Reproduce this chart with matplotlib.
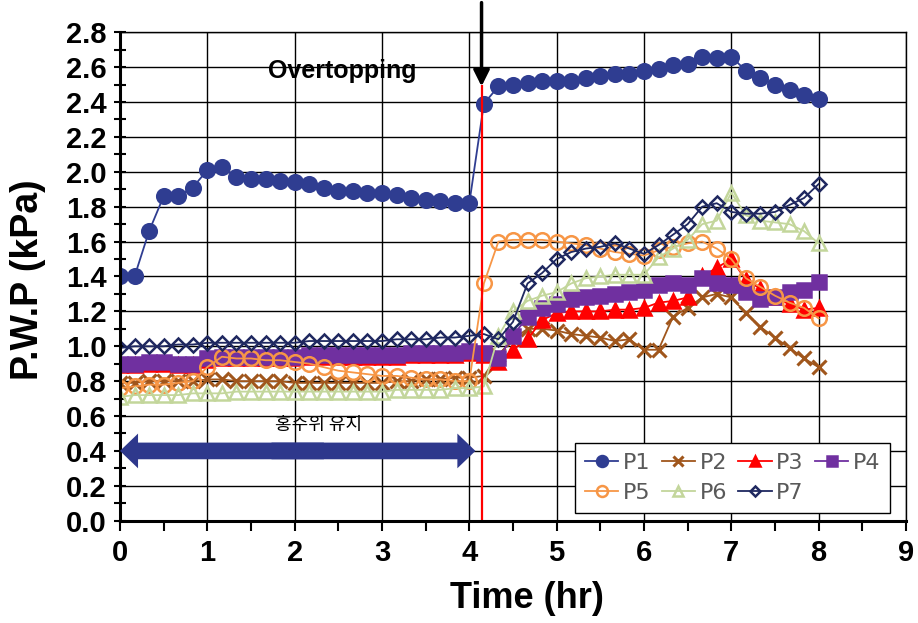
import matplotlib
matplotlib.use("Agg")
import matplotlib.pyplot as plt
from matplotlib.patches import FancyArrowPatch
from matplotlib.ticker import MultipleLocator

# sampling every 10 min, 0 ~ 8 hr
minutes = list(range(0, 490, 10))
time_hr = [m / 60 for m in minutes]

p1 = [1.40, 1.40, 1.66, 1.86, 1.86, 1.91, 2.01, 2.03, 1.97, 1.96, 1.96, 1.95, 1.94,
      1.93, 1.91, 1.89, 1.89, 1.88, 1.88, 1.87, 1.85, 1.84, 1.83, 1.82, 1.82,
      2.39, 2.49, 2.50, 2.51, 2.52, 2.52, 2.52, 2.54, 2.55, 2.56, 2.56, 2.58,
      2.59, 2.61, 2.62, 2.66, 2.65, 2.66, 2.58, 2.54, 2.50, 2.47, 2.44, 2.42]
p2 = [0.79, 0.79, 0.80, 0.80, 0.80, 0.80, 0.81, 0.81, 0.80, 0.80, 0.80, 0.80, 0.79,
      0.79, 0.79, 0.79, 0.79, 0.79, 0.79, 0.80, 0.80, 0.81, 0.81, 0.82, 0.82,
      0.83, 0.95, 1.04, 1.10, 1.10, 1.09, 1.07, 1.06, 1.05, 1.03, 1.04, 0.98,
      0.98, 1.17, 1.22, 1.28, 1.30, 1.28, 1.19, 1.11, 1.05, 0.99, 0.93, 0.88]
p3 = [0.89, 0.89, 0.90, 0.90, 0.89, 0.89, 0.92, 0.93, 0.93, 0.93, 0.93, 0.93, 0.93,
      0.94, 0.94, 0.94, 0.94, 0.94, 0.94, 0.94, 0.95, 0.95, 0.95, 0.95, 0.96,
      0.95, 0.91, 0.98, 1.04, 1.15, 1.19, 1.20, 1.20, 1.20, 1.21, 1.21, 1.22,
      1.25, 1.26, 1.28, 1.40, 1.45, 1.50, 1.38, 1.33, 1.28, 1.24, 1.21, 1.22]
p4 = [0.90, 0.90, 0.91, 0.91, 0.90, 0.90, 0.93, 0.94, 0.94, 0.94, 0.94, 0.94, 0.94,
      0.95, 0.95, 0.95, 0.95, 0.95, 0.95, 0.95, 0.96, 0.96, 0.96, 0.96, 0.97,
      0.96, 0.93, 1.06, 1.17, 1.22, 1.24, 1.27, 1.28, 1.29, 1.30, 1.31, 1.32,
      1.35, 1.36, 1.35, 1.39, 1.36, 1.35, 1.31, 1.27, 1.28, 1.31, 1.32, 1.37]
p5 = [0.76, 0.77, 0.78, 0.78, 0.79, 0.80, 0.88, 0.94, 0.93, 0.93, 0.92, 0.92, 0.91,
      0.90, 0.88, 0.86, 0.85, 0.84, 0.83, 0.83, 0.82, 0.81, 0.81, 0.80, 0.80,
      1.36, 1.60, 1.61, 1.61, 1.61, 1.60, 1.59, 1.58, 1.56, 1.54, 1.53, 1.52,
      1.55, 1.57, 1.59, 1.60, 1.56, 1.50, 1.39, 1.34, 1.29, 1.25, 1.22, 1.16]
p6 = [0.71, 0.72, 0.72, 0.72, 0.72, 0.73, 0.73, 0.73, 0.74, 0.74, 0.74, 0.74, 0.74,
      0.74, 0.74, 0.74, 0.74, 0.74, 0.74, 0.75, 0.75, 0.75, 0.75, 0.76, 0.76,
      0.77, 1.06, 1.20, 1.26, 1.29, 1.31, 1.36, 1.39, 1.40, 1.41, 1.41, 1.41,
      1.51, 1.56, 1.61, 1.70, 1.72, 1.88, 1.75, 1.72, 1.71, 1.70, 1.66, 1.59]
p7 = [0.99, 1.00, 1.00, 1.00, 1.01, 1.01, 1.02, 1.02, 1.02, 1.02, 1.02, 1.02, 1.02,
      1.03, 1.03, 1.03, 1.03, 1.03, 1.03, 1.04, 1.04, 1.04, 1.05, 1.05, 1.06,
      1.07, 1.04, 1.14, 1.36, 1.42, 1.50, 1.54, 1.56, 1.57, 1.59, 1.56, 1.53,
      1.58, 1.64, 1.70, 1.80, 1.82, 1.77, 1.76, 1.76, 1.77, 1.81, 1.85, 1.93]

labels = ["P1", "P2", "P3", "P4", "P5", "P6", "P7"]
overtop_t = 4.14        # 월류 시작 시각
hold_range = (0, 4.07)  # 홍수위 유지 구간
hold_level = 0.4

# (color, marker, size, face)
styles = [
    ("#2F3D91", "o", 10.5, "#2F3D91"),
    ("#A0561C", "x", 10.5, "#A0561C"),
    ("#FF0000", "^", 10.5, "#FF0000"),
    ("#7030A0", "s", 9.5, "#7030A0"),
    ("#F79646", "o", 10.5, "none"),
    ("#C3D69B", "^", 10.5, "none"),
    ("#1F2860", "D", 7.2, "none"),
]

bold = dict(family=["Liberation Sans", "DejaVu Sans"], weight="bold")

fig = plt.figure(figsize=(9.18, 6.23), dpi=100)
ax = fig.add_axes([0.1307, 0.1642, 0.8562, 0.784])

lines = {}
for ys, lab, (c, m, ms, fc) in zip([p1, p2, p3, p4, p5, p6, p7], labels, styles):
    mew = 2.2 if m == "x" else 1.8
    lines[lab], = ax.plot(time_hr, ys, color=c, marker=m, ms=ms, mfc=fc, mec=c,
                          mew=mew, lw=1.3, label=lab)

ax.set_xlim(0, 9)
ax.set_ylim(0, 2.8)
ax.xaxis.set_major_locator(MultipleLocator(1))
ax.xaxis.set_minor_locator(MultipleLocator(0.5))
ax.yaxis.set_major_locator(MultipleLocator(0.2))
ax.yaxis.set_minor_locator(MultipleLocator(0.1))
ax.yaxis.set_major_formatter(plt.FormatStrFormatter("%.1f"))
ax.grid(True, which="major", color="black", lw=1.0)
ax.set_axisbelow(True)

for s in ["left", "bottom"]:
    ax.spines[s].set_linewidth(2.2)
for s in ["top", "right"]:
    ax.spines[s].set_linewidth(1.0)

ax.tick_params(axis="y", which="both", direction="inout", length=9, width=1.5, pad=5)
ax.tick_params(axis="x", which="both", direction="out", length=7, width=1.5, pad=6)
for t in ax.get_yticklabels():
    t.set(fontsize=21, **bold)
for t in ax.get_xticklabels():
    t.set(fontsize=21, **bold)

fig.text(28 / 918, 1 - 280 / 623, "P.W.P (kPa)", rotation=90, ha="center",
         va="center", fontsize=27, **bold)
fig.text(527 / 918, 1 - 598 / 623, "Time (hr)", ha="center", va="center",
         fontsize=26, **bold)

# 월류 시점 표시
ax.axvline(overtop_t, ymax=2.49 / 2.8, color="red", lw=1.6)
ax.annotate("", xy=(overtop_t, 2.49), xytext=(overtop_t, 2.97),
            arrowprops=dict(arrowstyle="-|>", color="black", lw=2.5,
                            mutation_scale=24, shrinkA=0, shrinkB=0),
            annotation_clip=False)
ax.text(2.54, 2.58, "Overtopping", ha="center", va="center", fontsize=18, **bold)

# 홍수위 유지 양방향 화살표
mid = sum(hold_range) / 2
arrow_kw = dict(arrowstyle="simple,head_width=25,head_length=13,tail_width=12",
                mutation_scale=1, fc="#2E388C", ec="none", zorder=5)
ax.add_patch(FancyArrowPatch((mid + 0.3, hold_level), (hold_range[0], hold_level),
                             shrinkA=0, shrinkB=0, **arrow_kw))
ax.add_patch(FancyArrowPatch((mid - 0.3, hold_level), (hold_range[1], hold_level),
                             shrinkA=0, shrinkB=0, **arrow_kw))
ax.text(2.27, 0.55, "홍수위 유지", ha="center", va="center", fontsize=13,
        family=["Noto Sans CJK KR", "DejaVu Sans"])

# row-wise legend order (matplotlib fills columns first)
order = ["P1", "P5", "P2", "P6", "P3", "P7", "P4"]
leg = ax.legend([lines[k] for k in order], order,
                loc="lower left", bbox_to_anchor=(0.579, 0.016, 0.401, 0.18),
                mode="expand", ncol=4, fontsize=16, handlelength=1.5,
                handletextpad=0.2, columnspacing=0.6, markerscale=0.75,
                fancybox=False, framealpha=1, edgecolor="black",
                borderpad=0.45, labelspacing=0.45, borderaxespad=0)
leg.get_frame().set_linewidth(1.0)
for t in leg.get_texts():
    t.set_color("#595959")

fig.savefig("out.png", dpi=100)
